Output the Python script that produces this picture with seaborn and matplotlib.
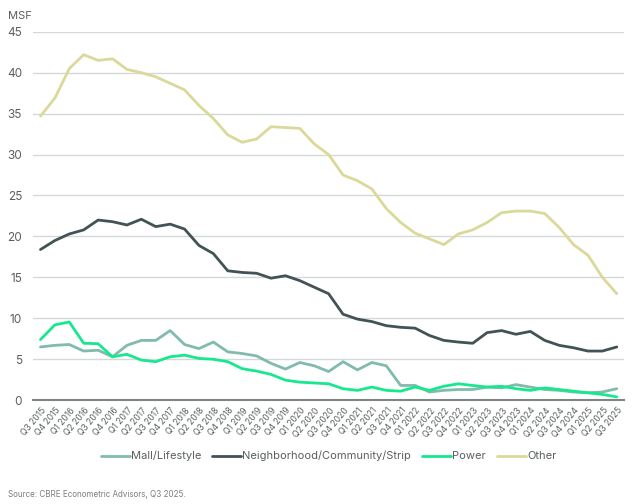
import numpy as np
import pandas as pd
import matplotlib
matplotlib.use("Agg")
import matplotlib.pyplot as plt
import seaborn as sns

# ---- data (MSF, Q3 2015 .. Q3 2025) ----
quarters = []
for yr in range(2015, 2026):
    for q in range(1, 5):
        if (yr == 2015 and q < 3) or (yr == 2025 and q > 3):
            continue
        quarters.append(f"Q{q} {yr}")

mall = [6.5, 6.7, 6.8, 6.0, 6.1, 5.3, 6.7, 7.3, 7.3, 8.5, 6.8, 6.3, 7.1, 5.9, 5.7,
        5.4, 4.5, 3.8, 4.6, 4.2, 3.5, 4.7, 3.7, 4.6, 4.2, 1.8, 1.8, 1.0, 1.2, 1.3,
        1.3, 1.6, 1.5, 1.9, 1.6, 1.3, 1.2, 1.0, 0.9, 1.0, 1.4]
neighborhood = [18.4, 19.5, 20.3, 20.8, 22.0, 21.8, 21.4, 22.1, 21.2, 21.5, 20.9,
                18.9, 17.9, 15.8, 15.6, 15.5, 14.9, 15.2, 14.6, 13.8, 13.0, 10.5,
                9.9, 9.6, 9.1, 8.9, 8.8, 7.9, 7.3, 7.1, 6.95, 8.25, 8.5, 8.05, 8.4,
                7.3, 6.7, 6.4, 6.0, 6.0, 6.5]
power = [7.4, 9.2, 9.55, 6.95, 6.9, 5.3, 5.6, 4.9, 4.7, 5.3, 5.5, 5.1, 5.0, 4.7,
         3.85, 3.55, 3.15, 2.45, 2.2, 2.1, 2.0, 1.4, 1.2, 1.6, 1.2, 1.1, 1.6, 1.2,
         1.7, 2.0, 1.8, 1.6, 1.7, 1.4, 1.2, 1.5, 1.3, 1.1, 0.9, 0.7, 0.4]
other = [34.7, 36.9, 40.5, 42.2, 41.5, 41.7, 40.4, 40.0, 39.5, 38.7, 37.9, 36.0,
         34.4, 32.4, 31.5, 31.9, 33.4, 33.3, 33.2, 31.3, 30.0, 27.5, 26.8, 25.8,
         23.4, 21.7, 20.4, 19.7, 19.0, 20.3, 20.8, 21.7, 22.9, 23.1, 23.1, 22.8,
         21.1, 19.0, 17.7, 15.0, 13.0]

series_names = ["Mall/Lifestyle", "Neighborhood/Community/Strip", "Power", "Other"]
colors = ["#80BBAD", "#435254", "#17E88F", "#DBD99A"]

df = pd.DataFrame({"quarter": quarters, "Mall/Lifestyle": mall,
                   "Neighborhood/Community/Strip": neighborhood,
                   "Power": power, "Other": other})
df["idx"] = np.arange(len(quarters))
long_df = df.melt(id_vars=["quarter", "idx"], var_name="type", value_name="msf")

# ---- plot ----
sns.set_style("white")
plt.rcParams["font.family"] = ["Inter", "DejaVu Sans"]

fig = plt.figure(figsize=(6.4, 5.04), dpi=100)
ax = fig.add_axes([0.052, 0.206, 0.923, 0.731])

sns.lineplot(data=long_df, x="idx", y="msf", hue="type", hue_order=series_names,
             palette=colors, linewidth=2.0, ax=ax)

ax.set_xlim(-0.5, len(quarters) - 0.5)
ax.set_ylim(0, 45)
ax.set_yticks(np.arange(0, 46, 5))
ax.yaxis.grid(True, color="#D5D8D8", linewidth=1.0)
ax.set_axisbelow(True)
for s in ["top", "right", "left"]:
    ax.spines[s].set_visible(False)
ax.spines["bottom"].set_color("#7F8585")
ax.spines["bottom"].set_linewidth(1.5)

ax.set_xticks(df["idx"])
ax.set_xticklabels(quarters, rotation=50, ha="right", rotation_mode="anchor",
                   fontsize=6.2, color="#5A5F60")
ax.tick_params(axis="y", labelsize=8.5, labelcolor="#5A5F60", length=0, pad=8)
ax.tick_params(axis="x", length=0, pad=4)
ax.set_xlabel("")
ax.set_ylabel("")

fig.text(0.012, 0.968, "MSF", fontsize=8, color="#5A5F60", va="center")

ax.legend(loc="center", bbox_to_anchor=(0.5, -0.152), ncol=4, frameon=False,
          fontsize=8, handlelength=2.6, handletextpad=0.1, columnspacing=1.0,
          labelcolor="#5A5F60")

fig.text(0.012, 0.018, "Source: CBRE Econometric Advisors, Q3 2025.", fontsize=5.8,
         color="#7A7F80", va="center")

fig.savefig("out.png", dpi=100)
